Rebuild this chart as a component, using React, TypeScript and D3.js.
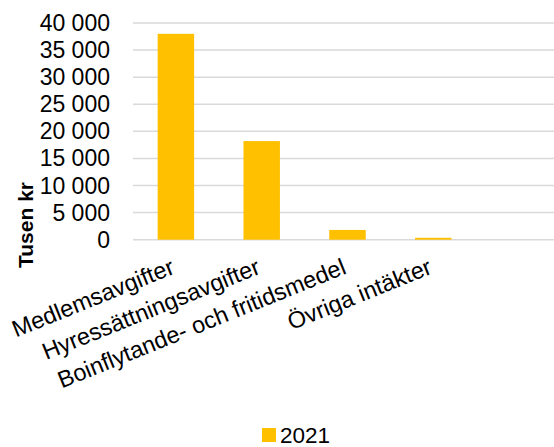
import React from "react";
import * as d3 from "d3";

const categories = ["Medlemsavgifter", "Hyressättningsavgifter", "Boinflytande- och fritidsmedel", "Övriga intäkter", ""];
const values2021: (number | null)[] = [38000, 18200, 1800, 350, null];
const yTicks = [0, 5000, 10000, 15000, 20000, 25000, 30000, 35000, 40000];
const seriesName = "2021";

const W = 554;
const H = 447;
const FONT = "'Liberation Sans', Arial, sans-serif";
const GOLD = "#FFC000";

export default function App() {
  const x = d3
    .scaleBand<string>()
    .domain(categories.map((c, i) => String(i)))
    .range([133, 562])
    .paddingInner(0.575)
    .paddingOuter(0.2875);
  const y = d3.scaleLinear().domain([0, 40000]).range([239.7, 23]);
  const fmt = (v: number) => d3.format(",")(v).replace(/,/g, " ");

  return (
    <div style={{ position: "absolute", left: 0, top: 0 }}>
      <svg width={W} height={H} style={{ display: "block", fontFamily: FONT }}>
        <rect width={W} height={H} fill="#fff" />
        {yTicks.map((t) => (
          <g key={t}>
            <line x1={133} x2={W} y1={y(t)} y2={y(t)} stroke="#d9d9d9" strokeWidth={1.5} />
            <text x={110} y={y(t)} dy="0.35em" textAnchor="end" fontSize={23} fill="#000">
              {fmt(t)}
            </text>
          </g>
        ))}
        {categories.map((c, i) => {
          const v = values2021[i];
          if (v == null) return null;
          const bx = x(String(i))!;
          return (
            <rect key={c} x={bx} y={y(v)} width={x.bandwidth()} height={y(0) - y(v)} fill={GOLD} />
          );
        })}
        {categories.map((c, i) => {
          const cx = x(String(i))! + x.bandwidth() / 2;
          return (
            <text
              key={"l" + i}
              transform={`translate(${cx},273) rotate(-22)`}
              textAnchor="end"
              fontSize={23.5}
              fill="#000"
            >
              {c}
            </text>
          );
        })}
        <text
          transform="translate(33,225) rotate(-90)"
          textAnchor="middle"
          fontSize={21}
          fontWeight="bold"
          fill="#000"
        >
          Tusen kr
        </text>
        <rect x={262} y={428} width={14} height={14} fill={GOLD} />
        <text x={280} y={442.5} fontSize={22.5} fill="#000">
          {seriesName}
        </text>
      </svg>
    </div>
  );
}
